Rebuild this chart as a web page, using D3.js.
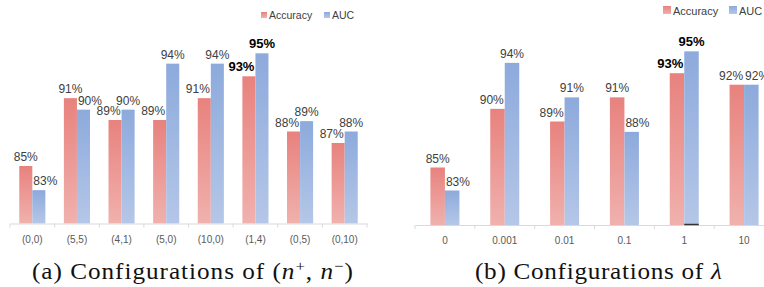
<!DOCTYPE html>
<html>
<head>
<meta charset="utf-8">
<script src="https://cdn.jsdelivr.net/npm/d3@7"></script>
<style>
  body { margin: 0; background: #fff; }
  svg { display: block; }
</style>
</head>
<body>
<svg id="canvas" width="764" height="287"></svg>
<script>
// ---- data ----
var seriesNames = ["Accuracy", "AUC"];

var configsA = ["(0,0)", "(5,5)", "(4,1)", "(5,0)", "(10,0)", "(1,4)", "(0,5)", "(0,10)"];
var accuracyA = [85.0, 90.9, 89.0, 89.0, 90.9, 92.8, 88.0, 87.0];
var aucA      = [82.9, 89.9, 89.9, 93.9, 93.9, 94.8, 88.9, 88.0];

var configsB = ["0", "0.001", "0.01", "0.1", "1", "10"];
var accuracyB = [85.0, 90.1, 89.0, 91.1, 93.2, 92.2];
var aucB      = [83.0, 94.1, 91.1, 88.1, 95.1, 92.2];

var bestA = "(1,4)";
var bestB = "1";

var svg = d3.select("#canvas");
var defs = svg.append("defs");

// excel style gradient fills, darker at the top
function gradient(id, top, bottom){
    var g = defs.append("linearGradient")
        .attr("id", id)
        .attr("x1", 0).attr("y1", 0)
        .attr("x2", 0).attr("y2", 1);
    g.append("stop").attr("offset", "0%").attr("stop-color", top);
    g.append("stop").attr("offset", "100%").attr("stop-color", bottom);
}
gradient("gradAcc", "#e8827e", "#f0b1ad");
gradient("gradAuc", "#8daadc", "#b5c7e8");
var fills = ["url(#gradAcc)", "url(#gradAuc)"];

function drawChart(opts){
    var g = svg.append("g");
    var rows = opts.cats.map(function(c, i){
        return {cat: c, values: [opts.acc[i], opts.auc[i]]};
    });

    var x = d3.scaleBand().domain(opts.cats).range(opts.xRange).padding(0);
    var groupW = x.bandwidth() * opts.groupFrac;
    var inner = d3.scaleBand().domain(seriesNames)
        .range([(x.bandwidth() - groupW) / 2, (x.bandwidth() + groupW) / 2]);
    var y = d3.scaleLinear().domain([80, 96]).range([opts.base, opts.base - 16 * 11.5]);

    var groups = g.selectAll("g.grp").data(rows).enter().append("g")
        .attr("class", "grp")
        .attr("transform", function(d){ return "translate(" + x(d.cat) + ",0)"; });

    groups.selectAll("rect").data(function(d){ return d.values; }).enter().append("rect")
        .attr("x", function(d, i){ return inner(seriesNames[i]); })
        .attr("width", inner.bandwidth())
        .attr("y", function(d){ return y(d); })
        .attr("height", function(d){ return y(80) - y(d); })
        .attr("fill", function(d, i){ return fills[i]; });

    // value labels: the shorter (or equal) bar's label is pushed away from its neighbour
    var mid = x.bandwidth() / 2;
    groups.each(function(d){
        var grp = d3.select(this);
        var bold = d.cat === opts.best;
        d.values.forEach(function(v, i){
            var other = d.values[1 - i];
            var tx, anchor;
            if (v <= other) {
                tx = i === 0 ? mid - 1 : mid + 1;
                anchor = i === 0 ? "end" : "start";
            } else {
                tx = inner(seriesNames[i]) + inner.bandwidth() / 2;
                anchor = "middle";
            }
            grp.append("text")
                .attr("x", tx)
                .attr("y", y(v) - 5)
                .attr("text-anchor", anchor)
                .style("font-family", "'Liberation Sans', Arial, sans-serif")
                .style("font-size", bold ? "13px" : "12px")
                .style("font-weight", bold ? "bold" : "normal")
                .style("fill", bold ? "#000" : "#404040")
                .text(Math.round(v) + "%");
        });
    });

    // axis
    var axis = d3.axisBottom(x).tickSize(0).tickPadding(12).tickSizeOuter(0);
    var ax = g.append("g")
        .attr("transform", "translate(0," + opts.base + ")")
        .call(axis);
    ax.select(".domain").attr("stroke", "#d9d9d9");
    ax.selectAll("text")
        .style("font-family", "'Liberation Sans', Arial, sans-serif")
        .style("font-size", "10px")
        .style("fill", "#595959");
    var edges = opts.cats.map(function(c){ return x(c); }).concat([opts.xRange[1]]);
    ax.selectAll("line.edge").data(edges).enter().append("line")
        .attr("class", "edge")
        .attr("x1", function(d){ return d; }).attr("x2", function(d){ return d; })
        .attr("y1", 0).attr("y2", 4)
        .attr("stroke", "#d9d9d9");

    // legend
    var lg = g.append("g").attr("transform", "translate(" + opts.legend[0] + "," + opts.legend[1] + ")");
    var offs = [0, opts.legendGap];
    seriesNames.forEach(function(s, i){
        lg.append("rect")
            .attr("x", offs[i]).attr("y", -opts.sw - 1)
            .attr("width", opts.sw).attr("height", opts.sw)
            .attr("fill", fills[i]);
        lg.append("text")
            .attr("x", offs[i] + opts.sw + 2)
            .attr("y", 0)
            .style("font-family", "'Liberation Sans', Arial, sans-serif")
            .style("font-size", opts.legendFont + "px")
            .style("fill", "#404040")
            .text(s);
    });

    return {g: g, x: x, inner: inner, y: y};
}

var left = drawChart({
    cats: configsA, acc: accuracyA, auc: aucA, best: bestA,
    xRange: [10, 367], groupFrac: 0.585, base: 223.5,
    legend: [261, 19], legendGap: 63, sw: 6, legendFont: 10.5
});

var right = drawChart({
    cats: configsB, acc: accuracyB, auc: aucB, best: bestB,
    xRange: [415, 774], groupFrac: 0.485, base: 225,
    legend: [663, 15], legendGap: 66, sw: 8, legendFont: 11
});

// small dark stroke at the foot of the AUC bar for lambda = 1
right.g.append("line")
    .attr("x1", right.x(bestB) + right.inner("AUC"))
    .attr("x2", right.x(bestB) + right.inner("AUC") + right.inner.bandwidth())
    .attr("y1", right.y(80) - 0.5).attr("y2", right.y(80) - 0.5)
    .attr("stroke", "#333").attr("stroke-width", 1.5);

// captions: latex-like, widened a bit then spaced out to the original width
function caption(x0, x1, parts){
    var t = svg.append("text")
        .attr("x", 0).attr("y", 0)
        .style("font-family", "'Liberation Serif', 'DejaVu Serif', serif")
        .style("font-size", "22.5px")
        .style("fill", "#111");
    var nChars = 0;
    parts.forEach(function(p){
        var ts = t.append("tspan").text(p.t);
        nChars += p.t.length;
        if (p.it) ts.style("font-style", "italic");
        if (p.sup) ts.attr("dy", "-8").style("font-size", "15px");
        if (p.down) ts.attr("dy", "8");
    });
    var w = t.node().getComputedTextLength();
    var target = x1 - x0;
    var sx = Math.min(1.12, target / w);
    var ls = (target / sx - w) / (nChars - 1);
    t.style("letter-spacing", ls + "px")
        .attr("transform", "translate(" + x0 + ",279) scale(" + sx + ",1)");
    return t;
}

caption(32, 353, [
    {t: "(a) Configurations of ("},
    {t: "n", it: true},
    {t: "+", sup: true},
    {t: ", ", down: true},
    {t: "n", it: true},
    {t: "\u2212", sup: true},
    {t: ")", down: true}
]);
caption(475, 722, [
    {t: "(b) Configurations of "},
    {t: "\u03bb", it: true}
]);
</script>
</body>
</html>
